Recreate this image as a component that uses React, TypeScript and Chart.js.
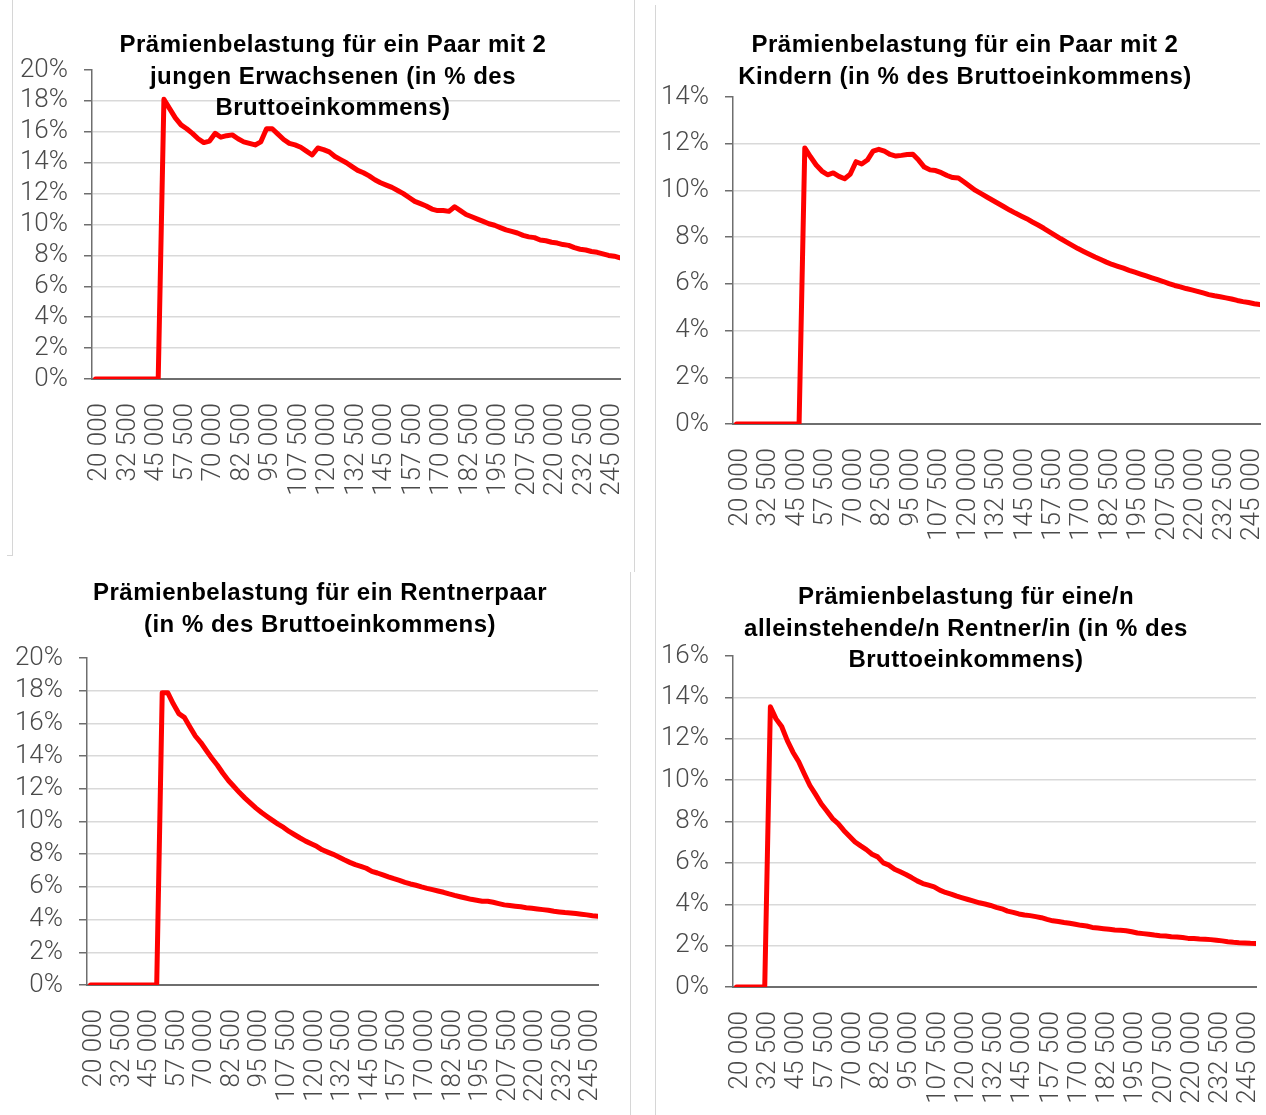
import React, { useEffect, useRef } from "react";
import { Chart, registerables } from "chart.js";

Chart.register(...registerables);

// Bruttoeinkommen (CHF)
const incomes = [
  20000, 22500, 25000, 27500, 30000, 32500, 35000, 37500, 40000, 42500,
  45000, 47500, 50000, 52500, 55000, 57500, 60000, 62500, 65000, 67500,
  70000, 72500, 75000, 77500, 80000, 82500, 85000, 87500, 90000, 92500,
  95000, 97500, 100000, 102500, 105000, 107500, 110000, 112500, 115000, 117500,
  120000, 122500, 125000, 127500, 130000, 132500, 135000, 137500, 140000, 142500,
  145000, 147500, 150000, 152500, 155000, 157500, 160000, 162500, 165000, 167500,
  170000, 172500, 175000, 177500, 180000, 182500, 185000, 187500, 190000, 192500,
  195000, 197500, 200000, 202500, 205000, 207500, 210000, 212500, 215000, 217500,
  220000, 222500, 225000, 227500, 230000, 232500, 235000, 237500, 240000, 242500,
  245000, 247500, 250000,
];

// Prämienbelastung in % des Bruttoeinkommens
const paarJungeErwachsene = [
  0, 0, 0, 0, 0, 0, 0, 0, 0, 0, 0, 0,
  18.1, 17.5, 16.9, 16.45, 16.2, 15.9, 15.55, 15.3, 15.4, 15.9,
  15.65, 15.75, 15.8, 15.55, 15.35, 15.25, 15.15, 15.35, 16.2, 16.2,
  15.85, 15.5, 15.25, 15.15, 15.0, 14.75, 14.5, 14.95, 14.85, 14.7,
  14.4, 14.2, 14.0, 13.75, 13.5, 13.35, 13.15, 12.9, 12.7, 12.55,
  12.4, 12.2, 12.0, 11.75, 11.5, 11.35, 11.2, 11.0, 10.9, 10.9,
  10.85, 11.15, 10.9, 10.65, 10.5, 10.35, 10.2, 10.05, 9.95, 9.8,
  9.65, 9.55, 9.45, 9.3, 9.2, 9.15, 9.0, 8.95, 8.85, 8.8,
  8.7, 8.65, 8.5, 8.4, 8.35, 8.25, 8.2, 8.1, 8.0, 7.95, 7.85,
];

const paarKinder = [
  0, 0, 0, 0, 0, 0, 0, 0, 0, 0, 0, 0,
  11.82, 11.44, 11.09, 10.83, 10.67, 10.75, 10.6, 10.5, 10.7, 11.23,
  11.13, 11.3, 11.68, 11.76, 11.68, 11.54, 11.47, 11.5, 11.54, 11.55,
  11.3, 11.0, 10.88, 10.85, 10.76, 10.64, 10.55, 10.53, 10.36, 10.18,
  10.0, 9.86, 9.72, 9.58, 9.44, 9.3, 9.16, 9.03, 8.91, 8.79,
  8.65, 8.52, 8.38, 8.23, 8.08, 7.93, 7.79, 7.65, 7.51, 7.39,
  7.27, 7.15, 7.04, 6.93, 6.83, 6.75, 6.67, 6.58, 6.5, 6.42,
  6.34, 6.26, 6.18, 6.1, 6.01, 5.93, 5.87, 5.8, 5.74, 5.68,
  5.61, 5.54, 5.49, 5.45, 5.4, 5.35, 5.29, 5.24, 5.2, 5.15, 5.11,
];

const rentnerpaar = [
  0, 0, 0, 0, 0, 0, 0, 0, 0, 0, 0, 0, 0,
  17.88, 17.88, 17.2, 16.6, 16.37, 15.8, 15.23, 14.83, 14.34, 13.87,
  13.44, 12.95, 12.51, 12.14, 11.77, 11.43, 11.12, 10.82, 10.55, 10.31,
  10.07, 9.84, 9.64, 9.39, 9.19, 8.99, 8.8, 8.64, 8.48, 8.27,
  8.13, 7.99, 7.83, 7.66, 7.5, 7.36, 7.26, 7.14, 6.95, 6.85,
  6.73, 6.61, 6.5, 6.4, 6.28, 6.18, 6.1, 6.0, 5.91, 5.83,
  5.75, 5.67, 5.57, 5.48, 5.4, 5.32, 5.24, 5.18, 5.12, 5.12,
  5.06, 4.98, 4.9, 4.86, 4.82, 4.78, 4.73, 4.69, 4.65, 4.61,
  4.57, 4.51, 4.47, 4.43, 4.41, 4.37, 4.33, 4.29, 4.24, 4.2,
];

const alleinstehendRentner = [
  0, 0, 0, 0, 0, 0,
  13.55, 12.96, 12.59, 11.91, 11.35, 10.9, 10.31, 9.74, 9.31, 8.86,
  8.51, 8.14, 7.9, 7.57, 7.29, 7.01, 6.82, 6.64, 6.42, 6.29,
  6.0, 5.89, 5.69, 5.57, 5.44, 5.29, 5.13, 5.0, 4.92, 4.84,
  4.68, 4.57, 4.49, 4.39, 4.31, 4.23, 4.15, 4.07, 4.01, 3.94,
  3.85, 3.78, 3.67, 3.61, 3.53, 3.48, 3.45, 3.4, 3.35, 3.27,
  3.2, 3.17, 3.12, 3.08, 3.03, 2.98, 2.95, 2.88, 2.85, 2.82,
  2.79, 2.76, 2.74, 2.72, 2.67, 2.61, 2.58, 2.55, 2.51, 2.48,
  2.47, 2.43, 2.42, 2.39, 2.35, 2.34, 2.32, 2.31, 2.29, 2.26,
  2.23, 2.19, 2.16, 2.14, 2.13, 2.11, 2.1,
];

const titlePaarJung = ["Prämienbelastung für ein Paar mit 2", "jungen Erwachsenen (in % des", "Bruttoeinkommens)"];
const titlePaarKinder = ["Prämienbelastung für ein Paar mit 2", "Kindern (in % des Bruttoeinkommens)"];
const titleRentnerpaar = ["Prämienbelastung für ein Rentnerpaar", "(in % des Bruttoeinkommens)"];
const titleAlleinstehend = ["Prämienbelastung für eine/n", "alleinstehende/n Rentner/in (in % des", "Bruttoeinkommens)"];

const LABEL_EVERY = 5;

function formatIncome(n: number): string {
  const th = Math.floor(n / 1000);
  const rest = String(n % 1000).padStart(3, "0");
  return th + " " + rest;
}

const TICK_FONT = { family: "Roboto, 'Liberation Sans', Arial, sans-serif", size: 26, weight: "300" as any };
const TICK_COLOR = "#4a4a4a";
const AXIS_COLOR = "#6e6e6e";
const GRID_COLOR = "#d9d9d9";

type PanelProps = {
  values: number[];
  yMax: number;
  title: string[];
  box: { x: number; y: number; w: number; h: number };
  area: { left: number; top: number; right: number; bottom: number };
  titleCenter: number;
  titleTop: number;
};

function Panel({ values, yMax, title, box, area, titleCenter, titleTop }: PanelProps) {
  const ref = useRef<HTMLCanvasElement | null>(null);

  useEffect(() => {
    const canvas = ref.current;
    if (!canvas) return;
    const yW = area.left - box.x;
    const xH = box.y + box.h - area.bottom;
    const padTop = area.top - box.y;
    const padRight = box.x + box.w - area.right;
    const lastIdx = incomes.length - 1;
    // first category sits a few pixels right of the value axis, as in the original
    const gapPx = 3.5;
    const xMin = -(gapPx * lastIdx) / (area.right - area.left - gapPx);

    const chart = new Chart(canvas, {
      type: "line",
      data: {
        datasets: [
          {
            data: values.map((v, i) => ({ x: i, y: v })),
            borderColor: "#ff0000",
            backgroundColor: "#ff0000",
            borderWidth: 5,
            pointRadius: 0,
            pointHoverRadius: 0,
            tension: 0,
            fill: false,
            borderJoinStyle: "round",
            borderCapStyle: "round",
          },
        ],
      },
      options: {
        animation: false,
        responsive: false,
        devicePixelRatio: 1,
        events: [],
        parsing: false,
        layout: { padding: { top: padTop, right: padRight, left: 0, bottom: 0 } },
        plugins: {
          legend: { display: false },
          tooltip: { enabled: false },
          title: { display: false },
        },
        scales: {
          x: {
            type: "linear",
            min: xMin,
            max: lastIdx,
            offset: false,
            grid: { display: false, drawTicks: false },
            border: { display: true, color: AXIS_COLOR, width: 2 },
            afterBuildTicks: (s: any) => {
              s.ticks = incomes.map((_, i) => ({ value: i }));
            },
            ticks: {
              autoSkip: false,
              maxRotation: 90,
              minRotation: 90,
              padding: 24,
              labelOffset: 4,
              color: TICK_COLOR,
              font: TICK_FONT,
              callback: (v: any) =>
                Number.isInteger(v) && v % LABEL_EVERY === 0 && incomes[v] !== undefined
                  ? formatIncome(incomes[v])
                  : "",
            },
            afterFit: (s: any) => {
              s.height = xH;
              s.paddingLeft = 0;
              s.paddingRight = 0;
            },
          },
          y: {
            min: 0,
            max: yMax,
            grid: {
              color: (ctx: any) =>
                ctx.tick && ctx.tick.value === yMax ? "rgba(0,0,0,0)" : GRID_COLOR,
              lineWidth: 1.5,
              tickColor: AXIS_COLOR,
              tickLength: 8,
              tickWidth: 1.5,
              drawTicks: true,
            },
            border: { display: true, color: AXIS_COLOR, width: 1.5 },
            ticks: {
              stepSize: 2,
              autoSkip: false,
              padding: 16,
              color: TICK_COLOR,
              font: TICK_FONT,
              callback: (v: any) => v + "%",
            },
            afterFit: (s: any) => {
              s.width = yW;
            },
          },
        },
      },
    });
    return () => chart.destroy();
  }, [values, yMax, box, area]);

  return (
    <>
      <canvas
        ref={ref}
        width={box.w}
        height={box.h}
        style={{ position: "absolute", left: box.x, top: box.y, width: box.w, height: box.h }}
      />
      <div
        style={{
          position: "absolute",
          left: titleCenter - 320,
          width: 640,
          top: titleTop,
          textAlign: "center",
          fontFamily: "'Liberation Sans', Arial, Helvetica, sans-serif",
          fontWeight: 700,
          fontSize: 24,
          letterSpacing: "0.5px",
          lineHeight: "31.5px",
          color: "#000",
          whiteSpace: "nowrap",
          pointerEvents: "none",
        }}
      >
        {title.map((t, i) => (
          <div key={i}>{t}</div>
        ))}
      </div>
    </>
  );
}

const frameLine = (left: number, top: number, width: number, height: number) => (
  <div style={{ position: "absolute", left, top, width, height, background: "#d6d6d6" }} />
);

export default function App() {
  return (
    <div
      style={{
        position: "absolute",
        left: 0,
        top: 0,
        width: 1266,
        height: 1115,
        background: "#ffffff",
        overflow: "hidden",
      }}
    >
      {frameLine(12, 0, 1, 555)}
      {frameLine(7, 555, 6, 1)}
      {frameLine(634, 0, 1, 572)}
      {frameLine(630, 572, 1, 543)}
      {frameLine(655, 5, 1, 1110)}

      <Panel
        values={paarJungeErwachsene}
        yMax={20}
        title={titlePaarJung}
        box={{ x: 13, y: 0, w: 621, h: 555 }}
        area={{ left: 92, top: 70, right: 620, bottom: 379 }}
        titleCenter={333}
        titleTop={28}
      />
      <Panel
        values={paarKinder}
        yMax={14}
        title={titlePaarKinder}
        box={{ x: 656, y: 0, w: 610, h: 560 }}
        area={{ left: 733, top: 97, right: 1260, bottom: 424 }}
        titleCenter={965}
        titleTop={28}
      />
      <Panel
        values={rentnerpaar}
        yMax={20}
        title={titleRentnerpaar}
        box={{ x: 0, y: 572, w: 630, h: 543 }}
        area={{ left: 87, top: 658, right: 598, bottom: 985 }}
        titleCenter={320}
        titleTop={576}
      />
      <Panel
        values={alleinstehendRentner}
        yMax={16}
        title={titleAlleinstehend}
        box={{ x: 656, y: 560, w: 610, h: 555 }}
        area={{ left: 733, top: 656, right: 1256, bottom: 987 }}
        titleCenter={966}
        titleTop={580}
      />
    </div>
  );
}
